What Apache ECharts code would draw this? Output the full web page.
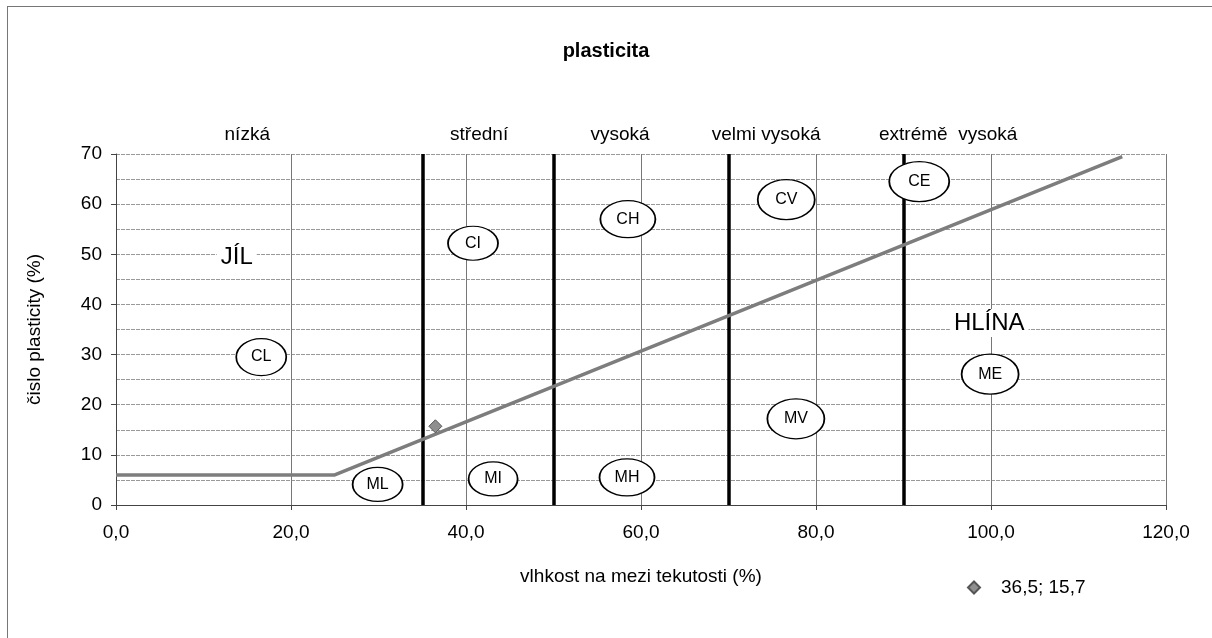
<!DOCTYPE html>
<html>
<head>
<meta charset="utf-8">
<script src="https://cdn.jsdelivr.net/npm/echarts@6/dist/echarts.min.js"></script>
<style>
html,body{margin:0;padding:0;background:#fff;}
#frame{position:absolute;left:7px;top:6px;width:1220px;height:650px;border:1px solid #777;box-sizing:border-box;}
#main{position:absolute;left:0;top:0;width:1212px;height:638px;}
</style>
</head>
<body>
<div id="frame"></div>
<div id="main"></div>
<script>
// ---- data ----
const aLineX = [0, 25, 115];
const aLineY = [6, 6, 69.5];
const boundaryX = [35, 50, 70, 90];
const zoneNames = ['nízká', 'střední', 'vysoká', 'velmi vysoká', 'extrémě  vysoká'];
const zoneX = [15, 41.5, 57.6, 74.3, 95.1];
const zoneY = 73.9;
const soilCodes = ['CL', 'CI', 'CH', 'CV', 'CE', 'ML', 'MI', 'MH', 'MV', 'ME'];
const soilX = [16.6, 40.8, 58.5, 76.6, 91.8, 29.9, 43.1, 58.4, 77.7, 99.9];
const soilY = [29.5, 52.2, 57, 60.9, 64.5, 4.1, 5.2, 5.5, 17.2, 26.1];
const regionNames = ['JÍL', 'HLÍNA'];
const regionX = [13.8, 99.8];
const regionY = [49.3, 36.3];
const sampleX = [36.5];
const sampleY = [15.7];
const sampleName = '36,5; 15,7';

// ---- styles ----
const FONT = '"Liberation Sans", Arial, sans-serif';
const ellipseSizes = [[50,37],[50,34],[55,37],[57,40],[60,40],[50,34],[49,34],[55,37],[57,40],[57,40]];

const chart = echarts.init(document.getElementById('main'));
const fmt = v => v.toFixed(1).replace('.', ',');

chart.setOption({
  animation: false,
  backgroundColor: 'transparent',
  textStyle: { fontFamily: FONT, color: '#000' },
  title: {
    text: 'plasticita', left: 'center', top: 36,
    textStyle: { fontFamily: FONT, fontSize: 20, fontWeight: 'bold', color: '#000' }
  },
  legend: {
    data: [sampleName], left: 962, top: 573,
    itemWidth: 12, itemHeight: 12,
    textStyle: { fontFamily: FONT, fontSize: 19, color: '#000', padding: [0, 0, 0, 16] }
  },
  grid: { left: 116, right: 46, top: 154, bottom: 133 },
  xAxis: {
    type: 'value', min: 0, max: 120, interval: 20,
    name: 'vlhkost na mezi tekutosti (%)', nameLocation: 'middle', nameGap: 62,
    nameTextStyle: { fontFamily: FONT, fontSize: 19, color: '#000' },
    axisLine: { show: true, onZero: false, lineStyle: { color: '#444', width: 1 } },
    axisTick: { show: true, length: 5, lineStyle: { color: '#444' } },
    axisLabel: { formatter: fmt, fontSize: 19, color: '#000', margin: 18, fontFamily: FONT },
    splitLine: { show: true, lineStyle: { color: '#777', width: 1 } }
  },
  yAxis: {
    type: 'value', min: 0, max: 70, interval: 10,
    name: 'čislo plasticity (%)', nameLocation: 'middle', nameGap: 72, nameRotate: 90,
    nameTextStyle: { fontFamily: FONT, fontSize: 19, color: '#000' },
    axisLine: { show: true, onZero: false, lineStyle: { color: '#444', width: 1 } },
    axisTick: { show: true, length: 5, lineStyle: { color: '#444' } },
    axisLabel: { fontSize: 19, color: '#000', margin: 14, fontFamily: FONT },
    splitLine: { show: true, lineStyle: { color: '#999', width: 1, type: [4, 1] } },
    minorTick: { show: false, splitNumber: 2 },
    minorSplitLine: { show: true, lineStyle: { color: '#999', width: 1, type: [4, 1] } }
  },
  series: [
    {
      name: 'boundaries', type: 'line', data: [], silent: true, z: 2,
      markLine: {
        silent: true, symbol: 'none', label: { show: false }, z: 2,
        lineStyle: { color: '#000', width: 3.5, type: 'solid' },
        data: boundaryX.map(x => ({ xAxis: x }))
      }
    },
    {
      name: 'A-line', type: 'line', silent: true, symbol: 'none', z: 3,
      lineStyle: { color: '#7d7d7d', width: 3.5 },
      data: aLineX.map((x, i) => [x, aLineY[i]])
    },
    {
      name: 'regions', type: 'scatter', silent: true, symbol: 'circle', symbolSize: 1, z: 4,
      itemStyle: { color: 'rgba(0,0,0,0)', opacity: 1 },
      data: regionNames.map((n, i) => ({ value: [regionX[i], regionY[i]], name: n })),
      label: {
        show: true, position: 'inside', formatter: p => p.name,
        fontSize: 24, color: '#000', fontFamily: FONT,
        backgroundColor: '#fff', padding: [2, 4]
      }
    },
    {
      name: 'soils', type: 'scatter', silent: true, symbol: 'circle',
      symbolSize: (v, p) => ellipseSizes[p.dataIndex],
      itemStyle: { color: '#fff', borderColor: '#000', borderWidth: 1.5, opacity: 1 },
      data: soilCodes.map((c, i) => ({ value: [soilX[i], soilY[i]], name: c })),
      label: { show: true, position: 'inside', formatter: p => p.name, fontSize: 16, color: '#000', fontFamily: FONT },
      z: 10
    },
    {
      name: sampleName, type: 'scatter', symbol: 'diamond', symbolSize: 13,
      itemStyle: { color: '#8f8f8f', borderColor: '#555', borderWidth: 1, opacity: 1 },
      data: sampleX.map((x, i) => [x, sampleY[i]]), z: 11
    },
    {
      name: 'zones', type: 'scatter', silent: true, symbol: 'circle', symbolSize: 1, clip: false,
      itemStyle: { color: 'rgba(0,0,0,0)', opacity: 1 },
      data: zoneNames.map((n, i) => ({ value: [zoneX[i], zoneY], name: n })),
      label: { show: true, position: 'inside', formatter: p => p.name, fontSize: 19, color: '#000', fontFamily: FONT }
    }
  ]
});
</script>
</body>
</html>
